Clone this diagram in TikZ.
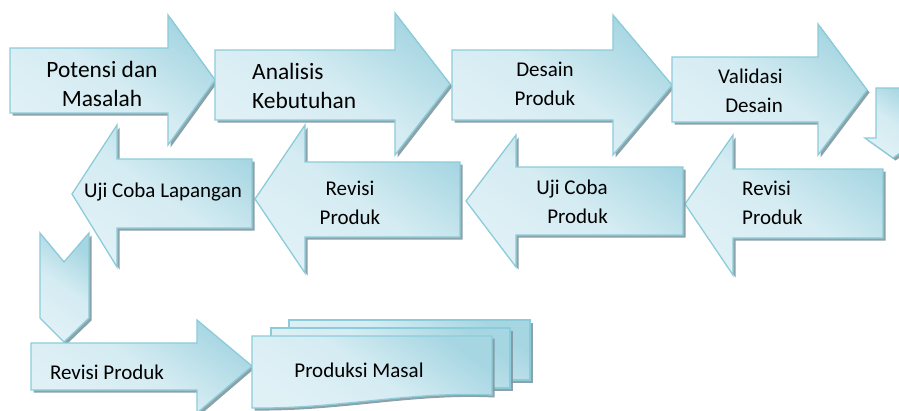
\documentclass[tikz,border=0pt]{standalone}
\usepackage{fontspec}
\setmainfont{Carlito}
\usetikzlibrary{shadows}

\definecolor{arrowline}{RGB}{140,204,218}
\definecolor{arrowdark}{RGB}{166,214,226}
\definecolor{arrowlight}{RGB}{224,241,246}
\definecolor{shadowgrey}{RGB}{128,152,160}

\begin{document}
\begin{tikzpicture}[x=1pt, y=-1pt,
    blockarrow/.style={draw=arrowline, line width=1.3pt, line join=miter,
        top color=arrowdark, bottom color=arrowlight, middle color=arrowlight!80!arrowdark,
        shading angle=-35,
        drop shadow={shadow xshift=2.5pt, shadow yshift=-2.5pt, fill=shadowgrey, opacity=0.9}},
    bigtext/.style={font=\fontsize{23.4}{29}\selectfont, inner sep=0pt},
    steptext/.style={font=\fontsize{21}{28.5}\selectfont, inner sep=0pt}]

    % Fix the page to the size of the picture
    \useasboundingbox (0,0) rectangle (899,410);

    % Horizontal block arrow:
    % tail x, neck x, tip x, body top, body bottom, head top, head bottom, tip y
    \def\harrow#1#2#3#4#5#6#7#8{%
        \shade[blockarrow] (#1,#4) -- (#2,#4) -- (#2,#6) -- (#3,#8)
            -- (#2,#7) -- (#2,#5) -- (#1,#5) -- cycle;}

    % First row, pointing right
    \harrow{10}{168}{215}{48}{113}{15}{145}{80}
    \harrow{215}{395}{450}{50}{120}{13}{155}{84}
    \harrow{452}{613}{672}{50}{120}{15}{155}{85}
    \harrow{672}{818}{867}{57}{122}{24}{155}{90}

    % Small arrow down at the right edge
    \shade[blockarrow] (876,88) -- (910,88) -- (910,138) -- (921,138)
        -- (893,158) -- (865,138) -- (876,138) -- cycle;

    % Second row, pointing left
    \harrow{883}{733}{685}{169}{238}{135}{275}{204}
    \harrow{683}{516}{466}{167}{235}{135}{267}{201}
    \harrow{460}{305}{255}{162}{237}{125}{273}{199}
    \harrow{252}{117}{72}{159}{228}{125}{267}{194}

    % Chevron down at the left
    \shade[blockarrow] (40,233) -- (64,262) -- (89,233) -- (89,318)
        -- (64,342) -- (40,318) -- cycle;

    % Last row
    \harrow{31}{197}{252}{343}{390}{320}{413}{366}

    % Stack of documents
    \shade[blockarrow] (289,320) rectangle (530,380);
    \shade[blockarrow] (271,328) rectangle (510,388);
    \shade[blockarrow] (252,336) -- (492,336) -- (492,395)
        .. controls (410,391) and (340,409) .. (252,408) -- cycle;

    % Labels of the steps
    \node[bigtext, align=center] (potensi) at (102,84) {Potensi dan\\Masalah};
    \node[bigtext, align=left, anchor=west] (analisis) at (252,86) {Analisis\\Kebutuhan};
    \node[steptext, align=center] (desain) at (545,84) {Desain\\Produk};
    \node[steptext, align=right, anchor=east] (validasi) at (783,91) {Validasi\\Desain};
    \node[steptext, align=left, anchor=west] (revisiA) at (742,203) {Revisi\\Produk};
    \node[steptext, align=right, anchor=east] (ujiproduk) at (608,202) {Uji Coba\\Produk};
    \node[steptext, align=center] (revisiB) at (350,203) {Revisi\\Produk};
    \node[steptext] (lapangan) at (163,192) {Uji Coba Lapangan};
    \node[steptext] (revisiC) at (107,372) {Revisi Produk};
    \node[steptext] (produksi) at (359,370) {Produksi Masal};

\end{tikzpicture}
\end{document}
